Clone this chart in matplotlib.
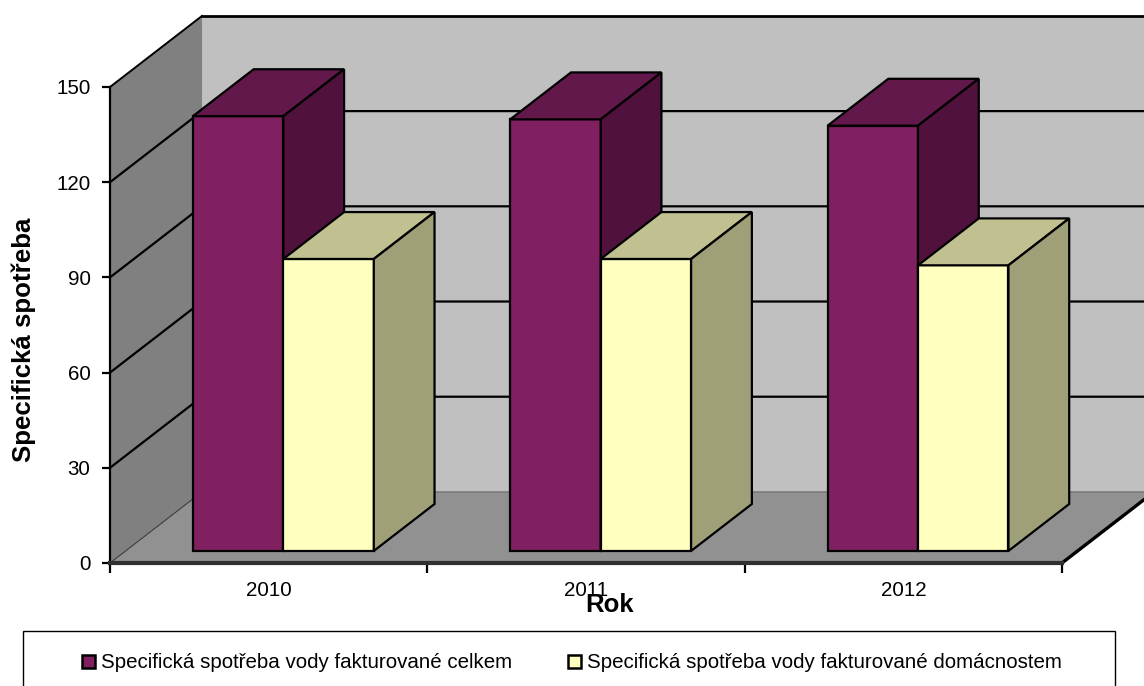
import matplotlib
matplotlib.use("Agg")
import matplotlib.pyplot as plt
from matplotlib.patches import Polygon, Patch, Rectangle

plt.rcParams["font.family"] = ["Liberation Sans", "DejaVu Sans"]

# Data
years = ["2010", "2011", "2012"]
total = [137, 136, 134]
households = [92, 92, 90]
series_names = ["Specifická spotřeba vody fakturované celkem",
                "Specifická spotřeba vody fakturované domácnostem"]
y_ticks = [0, 30, 60, 90, 120, 150]

# Oblique projection: how far the back wall is shifted, in data units
DEPTH_X = 0.29
DEPTH_Y = 22.4
BAR_FRONT = 0.17  # fraction of the depth
BAR_BACK = 0.83
BAR_W = 0.285

W, H = 1144, 686
fig = plt.figure(figsize=(W / 100, H / 100), dpi=100)
ax = fig.add_axes([110 / W, (H - 563) / H, 952 / W, 476 / H])
ax.set_xlim(0, len(years))
ax.set_ylim(0, 150)
ax.patch.set_visible(False)


def poly(pts, color, z, lw=1.6, edge="black"):
    ax.add_patch(Polygon(pts, closed=True, facecolor=color, edgecolor=edge,
                         linewidth=lw, zorder=z, clip_on=False))


def back(x, y, frac=1.0):
    return (x + DEPTH_X * frac, y + DEPTH_Y * frac)


n = len(years)
# back wall, side wall, floor
poly([back(0, 0), back(n, 0), back(n, 150), back(0, 150)], "#c0c0c0", 1, lw=0)
poly([(0, 0), back(0, 0), back(0, 150), (0, 150)], "#808080", 1.1, lw=0)
poly([(0, 0), (n, 0), back(n, 0), back(0, 0)], "#919191", 1.2, lw=0)

ax.plot(*zip(back(0, 150), back(n, 150)), color="black", lw=2.0, zorder=2, clip_on=False)
ax.plot(*zip((0, 0), back(0, 0)), color="#303030", lw=0.7, zorder=2, clip_on=False)
ax.plot(*zip(back(0, 0), back(n, 0)), color="#7a7a7a", lw=1.2, zorder=2, clip_on=False)
ax.plot(*zip((n, 0), back(n, 0)), color="black", lw=2.4, zorder=2, clip_on=False)

# gridlines run along the side wall and the back wall
for t in y_ticks[1:-1]:
    ax.plot(*zip((0, t), back(0, t), back(n, t)), color="black", lw=1.6, zorder=2,
            clip_on=False)
ax.plot(*zip((0, 150), back(0, 150)), color="black", lw=1.4, zorder=2, clip_on=False)


def bar3d(x0, val, front, top, side, z):
    x1 = x0 + BAR_W
    a = [back(x0, 0, BAR_FRONT), back(x1, 0, BAR_FRONT),
         back(x1, val, BAR_FRONT), back(x0, val, BAR_FRONT)]
    tb = [back(x0, val, BAR_BACK), back(x1, val, BAR_BACK)]
    bb = back(x1, 0, BAR_BACK)
    poly(a, front, z)
    poly([a[3], a[2], tb[1], tb[0]], top, z)
    poly([a[1], bb, tb[1], a[2]], side, z)


for i in range(n):
    left = i + 0.497 - BAR_W
    bar3d(left, total[i], "#802060", "#62184a", "#50123c", 3 + i)
    bar3d(left + BAR_W, households[i], "#ffffc0", "#c0c090", "#a0a078", 3.5 + i)

# axes
for s in ["top", "right"]:
    ax.spines[s].set_visible(False)
ax.spines["left"].set_linewidth(1.6)
ax.spines["left"].set_zorder(8)
ax.spines["bottom"].set_linewidth(3)
ax.spines["bottom"].set_color("#303030")
ax.spines["bottom"].set_zorder(8)
ax.set_yticks(y_ticks)
ax.set_xticks(range(n + 1))
ax.set_xticklabels([])
ax.set_xticks([i + 0.5 for i in range(n)], minor=True)
ax.set_xticklabels(years, minor=True, fontsize=14.8)
ax.tick_params(axis="x", which="minor", length=0, pad=13)
ax.tick_params(axis="x", which="major", length=7, width=1.6, zorder=9)
ax.tick_params(axis="y", length=6, width=1.6, labelsize=14.8, pad=8)

ax.set_xlabel("Rok", fontsize=18.5, fontweight="bold")
ax.xaxis.set_label_coords(0.525, -42 / 476)
ax.xaxis.label.set_va("center")
ax.set_ylabel("Specifická spotřeba", fontsize=18.6, fontweight="bold")
ax.yaxis.set_label_coords(-86 / 952, 0.468)
ax.yaxis.label.set_va("center")

# legend box runs off the bottom of the picture
fig.add_artist(Rectangle((23 / W, -10 / H), 1092 / W, (H - 631 + 10) / H, transform=fig.transFigure,
                         facecolor="white", edgecolor="black", linewidth=1.0))
handles = [Patch(facecolor="#802060", edgecolor="black", linewidth=1.8),
           Patch(facecolor="#ffffc0", edgecolor="black", linewidth=1.8)]
fig.legend(handles, series_names, ncol=2, frameon=False, loc="center",
           bbox_to_anchor=(572 / W, (H - 663) / H), fontsize=14.8,
           handlelength=0.6, handleheight=0.6, handletextpad=0.3,
           columnspacing=2.75)

fig.savefig("out.png", dpi=100)
